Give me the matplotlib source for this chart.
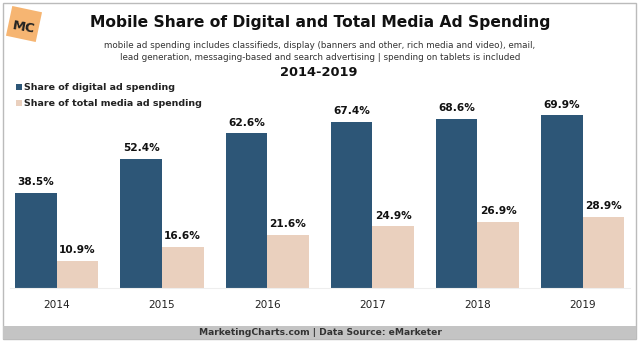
import matplotlib.pyplot as plt
from matplotlib.patches import Rectangle
from matplotlib.transforms import Affine2D
import numpy as np

years = ['2014', '2015', '2016', '2017', '2018', '2019']
digital = [38.5, 52.4, 62.6, 67.4, 68.6, 69.9]
total = [10.9, 16.6, 21.6, 24.9, 26.9, 28.9]

dark = '#2d5677'
light = '#ead0be'

W, H = 640, 342
fig = plt.figure(figsize=(6.4, 3.42), dpi=100)

# axes placed in pixel coordinates: baseline at y=288
ax_left, ax_right, ax_bottom, ax_top = 10, 630, 288, 100
ax = fig.add_axes([ax_left / W, 1 - ax_bottom / H,
                   (ax_right - ax_left) / W, (ax_bottom - ax_top) / H])

x = np.arange(len(years))
w = 0.395
b1 = ax.bar(x - w / 2, digital, w, color=dark, label='Share of digital ad spending')
b2 = ax.bar(x + w / 2, total, w, color=light, label='Share of total media ad spending')

for bars, vals in ((b1, digital), (b2, total)):
    for r, v in zip(bars, vals):
        ax.text(r.get_x() + r.get_width() / 2, v + 2.3, f'{v}%', ha='center', va='bottom',
                fontsize=7.6, fontweight='bold', color='#111111')

ax.set_xlim(-0.445, 5.45)
ax.set_ylim(0, (ax_bottom - ax_top) / 2.47)
ax.set_xticks(x)
ax.set_xticklabels(years, fontsize=7.6, color='#222222')
ax.tick_params(axis='x', length=0, pad=9)
ax.set_yticks([])
for s in ['top', 'right', 'left']:
    ax.spines[s].set_visible(False)
ax.spines['bottom'].set_color('#eeeeee')
ax.spines['bottom'].set_linewidth(0.8)

# outer frame
fig.patches.append(Rectangle((3 / W, 3 / H), 633 / W, 336 / H, transform=fig.transFigure,
                             fill=False, edgecolor='#bbbbbb', linewidth=1))

# footer band
fig.patches.append(Rectangle((3 / W, 3 / H), 633 / W, 13 / H, transform=fig.transFigure,
                             facecolor='#c4c4c4', edgecolor='none'))
fig.text(320 / W, 1 - 332.5 / H, 'MarketingCharts.com | Data Source: eMarketer', ha='center',
         va='center', fontsize=6.6, fontweight='bold', color='#333333')

# logo
logo_ax = fig.add_axes([5 / W, 1 - 43 / H, 38 / W, 38 / H])
logo_ax.set_xlim(0, 1)
logo_ax.set_ylim(0, 1)
logo_ax.axis('off')
sq = Rectangle((0.1, 0.1), 0.8, 0.8, facecolor='#f6b572', edgecolor='none')
sq.set_transform(Affine2D().rotate_deg_around(0.5, 0.5, -12) + logo_ax.transData)
logo_ax.add_patch(sq)
logo_ax.text(0.5, 0.4, 'MC', ha='center', va='center', fontsize=9.5, fontweight='bold',
             color='#222222', rotation=-10)

# titles
fig.text(320 / W, 1 - 22 / H, 'Mobile Share of Digital and Total Media Ad Spending',
         ha='center', va='center', fontsize=11.2, fontweight='bold', color='#111111')
fig.text(320 / W, 1 - 45 / H, 'mobile ad spending includes classifieds, display (banners and other, rich media and video), email,',
         ha='center', va='center', fontsize=6.35, color='#333333')
fig.text(320 / W, 1 - 57 / H, 'lead generation, messaging-based and search advertising | spending on tablets is included',
         ha='center', va='center', fontsize=6.35, color='#333333')
fig.text(319 / W, 1 - 72 / H, '2014-2019', ha='center', va='center', fontsize=9.4,
         fontweight='bold', color='#111111')

# legend drawn manually as squares + text
for i, (lab, col) in enumerate([('Share of digital ad spending', dark),
                                ('Share of total media ad spending', light)]):
    yy = 87 + 16 * i
    fig.patches.append(Rectangle((16 / W, 1 - (yy + 3) / H), 6 / W, 6 / H,
                                 transform=fig.transFigure, facecolor=col, edgecolor='none'))
    fig.text(24 / W, 1 - yy / H, lab, ha='left', va='center', fontsize=6.8,
             fontweight='bold', color='#222222')

fig.savefig('out.png', dpi=100)
